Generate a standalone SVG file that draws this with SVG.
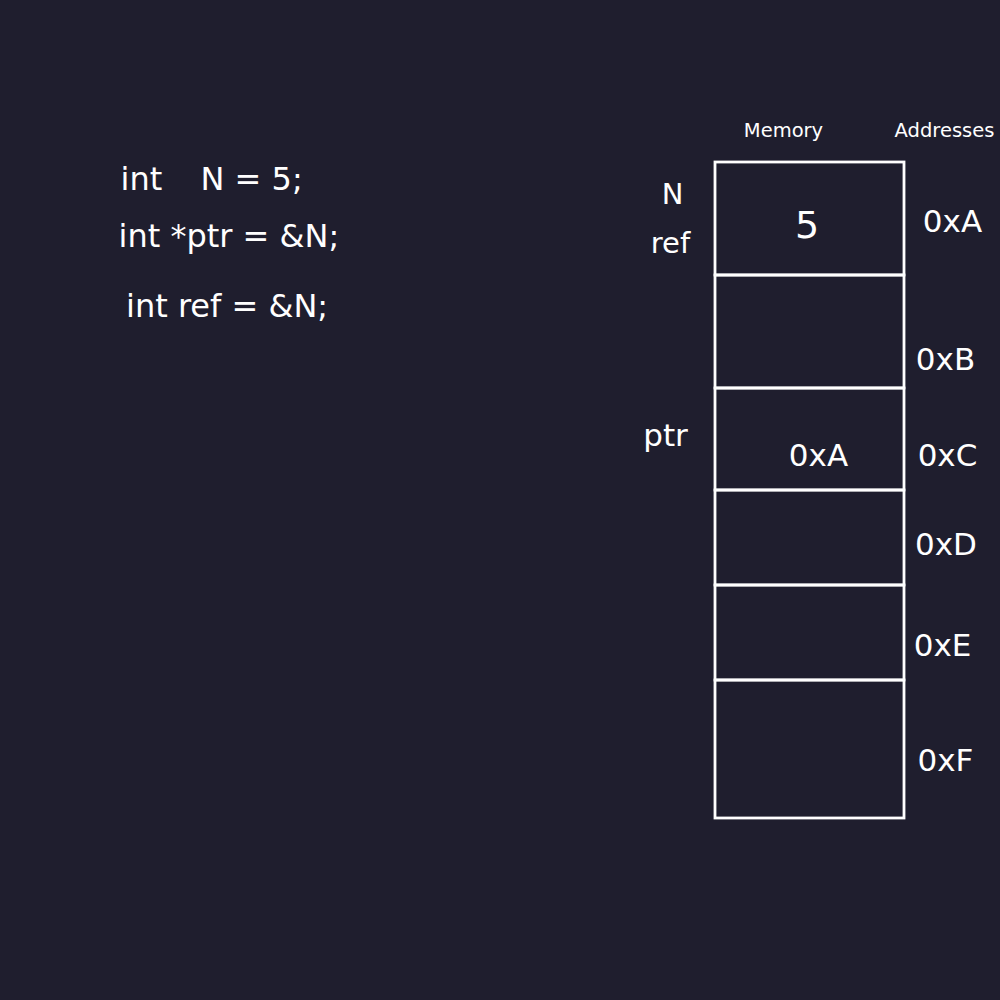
<svg xmlns="http://www.w3.org/2000/svg" width="1000" height="1000" viewBox="0 0 1000 1000">
<style>
text{font-family:"DejaVu Sans",sans-serif;fill:#ffffff}
.code{font-size:32px}
.hdr{font-size:19.5px;text-anchor:middle}
.lbl{font-size:29px;text-anchor:middle}
.addr{font-size:31px;text-anchor:middle}
.cell{fill:none;stroke:#ffffff;stroke-width:2.8}
</style>
<rect width="1000" height="1000" fill="#1f1e2e"/>
<g id="code">
<text class="code" x="120.5" y="190">int<tspan x="200.5">N = 5;</tspan></text>
<text class="code" x="118.5" y="247">int *ptr = &amp;N;</text>
<text class="code" x="126" y="317">int ref = &amp;N;</text>
</g>
<g id="headers">
<text class="hdr" x="783.5" y="137">Memory</text>
<text class="hdr" x="944.5" y="137">Addresses</text>
</g>
<g id="cell-0xA">
<rect class="cell" x="715" y="162" width="189" height="113"/>
<text class="lbl" x="807" y="238" style="font-size:38px">5</text>
<text class="lbl" x="672.5" y="204">N</text>
<text class="lbl" x="670.5" y="253">ref</text>
<text class="addr" x="952.5" y="232">0xA</text>
</g>
<g id="cell-0xB">
<rect class="cell" x="715" y="275" width="189" height="113"/>
<text class="addr" x="945.5" y="370">0xB</text>
</g>
<g id="cell-0xC">
<rect class="cell" x="715" y="388" width="189" height="102"/>
<text class="lbl" x="665.5" y="446" style="font-size:31px">ptr</text>
<text class="addr" x="818.5" y="466">0xA</text>
<text class="addr" x="947.5" y="466">0xC</text>
</g>
<g id="cell-0xD">
<rect class="cell" x="715" y="490" width="189" height="95"/>
<text class="addr" x="946" y="555">0xD</text>
</g>
<g id="cell-0xE">
<rect class="cell" x="715" y="585" width="189" height="95"/>
<text class="addr" x="942.5" y="656">0xE</text>
</g>
<g id="cell-0xF">
<rect class="cell" x="715" y="680" width="189" height="138"/>
<text class="addr" x="945.5" y="771">0xF</text>
</g>
<g id="connectors"/>
</svg>
